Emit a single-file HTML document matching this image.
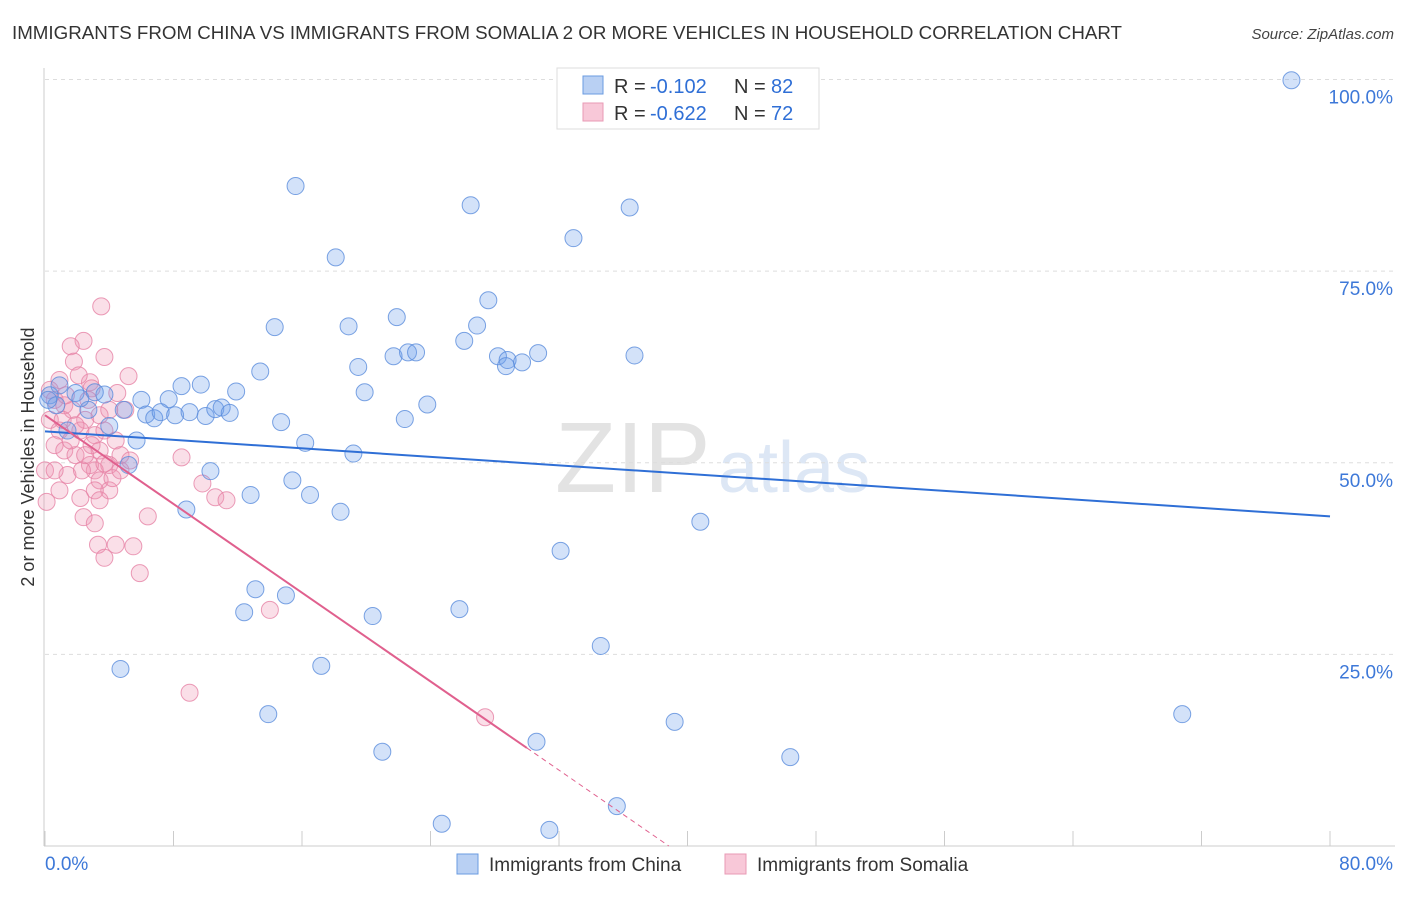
<!DOCTYPE html>
<html><head><meta charset="utf-8"><style>
body{margin:0;background:#fff;font-family:"Liberation Sans",sans-serif}
svg text{font-family:"Liberation Sans",sans-serif}
</style></head><body>
<svg id="chart" width="1406" height="892">
<text x="12" y="39" font-size="18" fill="#333" textLength="1110" lengthAdjust="spacingAndGlyphs">IMMIGRANTS FROM CHINA VS IMMIGRANTS FROM SOMALIA 2 OR MORE VEHICLES IN HOUSEHOLD CORRELATION CHART</text>
<text x="1394" y="39" font-size="15" fill="#444" font-style="italic" text-anchor="end">Source: ZipAtlas.com</text>
<text x="555" y="492" font-size="100" fill="#e3e3e3" font-family="Liberation Serif">ZIP</text>
<text x="718" y="492" font-size="72" fill="#dde7f5">atlas</text>
<g id="grid"></g><g id="axes"></g><g id="marks"></g>
<text x="34" y="457" font-size="18" fill="#333" text-anchor="middle" transform="rotate(-90 34 457)">2 or more Vehicles in Household</text>
<g>
<rect x="557" y="68" width="262" height="61" fill="#fff" stroke="#ddd"/>
<rect x="583" y="76" width="20" height="18" fill="#b9d0f3" stroke="#6a9be0"/>
<text x="614" y="93" font-size="20" fill="#333">R =</text>
<text x="650" y="93" font-size="20" fill="#2f6fd6">-0.102</text>
<text x="734" y="93" font-size="20" fill="#333">N =</text>
<text x="771" y="93" font-size="20" fill="#2f6fd6">82</text>
<rect x="583" y="103" width="20" height="18" fill="#f8c8d8" stroke="#e89ab5"/>
<text x="614" y="120" font-size="20" fill="#333">R =</text>
<text x="650" y="120" font-size="20" fill="#2f6fd6">-0.622</text>
<text x="734" y="120" font-size="20" fill="#333">N =</text>
<text x="771" y="120" font-size="20" fill="#2f6fd6">72</text>
</g>
<g><rect x="457" y="854" width="21" height="20" fill="#b9d0f3" stroke="#6a9be0"/><text x="489" y="871" font-size="19" fill="#333">Immigrants from China</text></g>
<g><rect x="725" y="854" width="21" height="20" fill="#f8c8d8" stroke="#e89ab5"/><text x="757" y="871" font-size="19" fill="#333">Immigrants from Somalia</text></g>
</svg>
<script>
const yTicks=[100,75,50,25];
const yTickLabels=["100.0%","75.0%","50.0%","25.0%"];
const xTickLabels=["0.0%","80.0%"];
const chinaX=[77.6,15.6,26.5,36.4,32.9,18.1,27.6,14.3,18.9,21.9,26.9,26.1,36.7,30.7,28.2,28.8,28.7,29.7,21.7,22.6,23.1,19.5,13.4,19.9,23.8,22.4,8.5,9.7,11.9,6.0,7.7,4.9,6.3,6.8,7.2,8.1,9.0,10.0,10.6,11.0,11.5,14.7,5.7,16.2,19.2,5.2,10.3,15.4,16.5,12.8,8.8,18.4,32.1,40.8,13.1,15.0,12.4,20.4,25.8,34.6,4.7,17.2,13.9,39.2,70.8,30.6,21.0,46.4,35.6,24.7,31.4,0.9,1.9,0.3,2.7,3.7,4.0,2.2,3.1,0.7,0.2,1.4];
const chinaY=[99.9,86.1,83.6,83.3,79.3,76.8,71.2,67.7,67.8,69.0,67.9,65.9,64.0,64.3,63.9,63.4,62.6,63.1,63.9,64.4,64.4,62.5,61.9,59.2,57.6,55.7,60.0,60.2,59.3,58.2,58.3,56.9,56.3,55.8,56.6,56.2,56.6,56.1,57.0,57.2,56.5,55.3,52.9,52.6,51.2,49.7,48.9,47.7,45.8,45.8,43.9,43.6,38.5,42.3,33.5,32.7,30.5,30.0,30.9,26.1,23.1,23.5,17.2,16.2,17.2,13.6,12.3,11.6,5.2,2.9,2.1,60.1,59.1,58.8,56.9,58.9,54.8,58.4,59.2,57.5,58.2,54.2];
const somaliaX=[3.5,2.4,1.6,1.8,3.7,5.2,2.8,4.5,2.9,0.9,0.6,1.2,1.7,2.5,3.4,0.3,0.9,2.2,3.1,3.7,4.4,0.6,1.2,1.9,3.4,4.7,4.0,3.1,1.4,0.9,2.2,3.4,4.0,4.2,3.1,2.4,3.1,3.3,4.4,5.5,3.7,5.9,6.4,8.5,9.8,10.6,11.3,14.0,9.0,27.4,0.1,0,0.6,1.6,2.8,0.3,1.1,2.1,2.7,5.0,4.0,1.3,1.9,2.9,3.7,4.7,5.3,2.3,3.4,2.5];
const somaliaY=[70.4,65.9,65.2,63.2,63.8,61.3,60.5,59.1,59.7,60.8,58.2,57.5,56.9,55.6,56.2,55.6,54.2,54.2,53.6,54.2,52.9,52.3,51.6,51.0,51.6,51.0,49.7,49.0,48.4,46.4,45.4,47.7,46.4,48.0,46.4,42.9,42.1,39.3,39.3,39.1,37.6,35.6,43.0,50.7,47.3,45.5,45.1,30.8,20.0,16.8,44.9,49.0,49.0,52.9,49.7,59.5,55.6,61.4,58.2,56.9,56.9,58.8,54.9,52.3,49.9,49.0,50.3,49.0,45.1,51.0];
const chinaTrend=[54.1,43.0];
const somaliaTrend=[56.2,-1.447];
const NS='http://www.w3.org/2000/svg';
const sx=v=>45+v/80*1285, sy=v=>846-v*7.665;
function mk(parent,tag,attrs){const e=document.createElementNS(NS,tag);for(const k in attrs)e.setAttribute(k,attrs[k]);document.getElementById(parent).appendChild(e);return e;}
yTicks.forEach((t,i)=>{
 const l=mk('grid','line',{x1:45,x2:1395,y1:sy(t),y2:sy(t),stroke:'#ddd','stroke-dasharray':'4,4'});
 
 
 const tx=mk('grid','text',{x:1393,y:sy(t)+24,'font-size':19,fill:'#3d78d8','text-anchor':'end'});tx.textContent=yTickLabels[i];
 
 
});
const la=mk('axes','line',{x1:44,x2:44,y1:68,y2:846,stroke:'#ccc'});


const ba=mk('axes','line',{x1:44,x2:1395,y1:846,y2:846,stroke:'#ccc'});


for(let i=0;i<=10;i++){const t=mk('axes','line',{x1:sx(i*8),x2:sx(i*8),y1:831,y2:846,stroke:'#ccc'});
 
 }
const xl0=mk('axes','text',{x:45,y:870,'font-size':19,fill:'#3d78d8'});xl0.textContent=xTickLabels[0];


const xl1=mk('axes','text',{x:1393,y:870,'font-size':19,fill:'#3d78d8','text-anchor':'end'});xl1.textContent=xTickLabels[1];


somaliaX.forEach((x,i)=>{const c=mk('marks','circle',{cx:sx(x),cy:sy(somaliaY[i]),r:8.5,fill:'rgba(240,150,180,0.3)',stroke:'rgba(230,130,165,0.8)'});
 
 });
chinaX.forEach((x,i)=>{const c=mk('marks','circle',{cx:sx(x),cy:sy(chinaY[i]),r:8.5,fill:'rgba(110,160,235,0.3)',stroke:'rgba(90,140,220,0.8)'});
 
 });
const bt=mk('marks','line',{x1:sx(0),y1:sy(chinaTrend[0]),x2:sx(80),y2:sy(chinaTrend[1]),stroke:'#2f6fd6','stroke-width':2});


const pEnd=30, pZero=-somaliaTrend[0]/somaliaTrend[1];
const pt=mk('marks','line',{x1:sx(0),y1:sy(somaliaTrend[0]),x2:sx(pEnd),y2:sy(somaliaTrend[0]+somaliaTrend[1]*pEnd),stroke:'#e0608e','stroke-width':2});


const pd=mk('marks','line',{x1:sx(pEnd),y1:sy(somaliaTrend[0]+somaliaTrend[1]*pEnd),x2:sx(pZero),y2:sy(0),stroke:'#e0608e','stroke-width':1,'stroke-dasharray':'5,4'});


</script>
</body></html>
